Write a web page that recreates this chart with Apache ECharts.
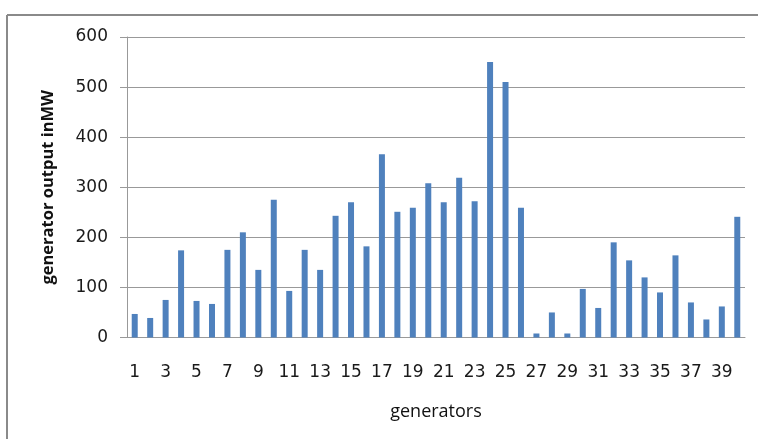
<!DOCTYPE html>
<html>
<head>
<meta charset="utf-8">
<script src="https://cdn.jsdelivr.net/npm/echarts@6/dist/echarts.min.js"></script>
<style>
html,body{margin:0;padding:0;background:#fff;}
#c{width:758px;height:439px;}
</style>
</head>
<body>
<div id="c"></div>
<script>
var categories = [];
for (var i = 1; i <= 40; i++) categories.push(String(i));
var outputMW = [47, 39, 75, 174, 73, 67, 175, 210, 135, 275,
                93, 175, 135, 243, 270, 182, 366, 251, 259, 308,
                270, 319, 272, 550, 510, 259, 8, 50, 8, 97,
                59, 190, 154, 120, 90, 164, 70, 36, 62, 241];
var yTicks = [0, 100, 200, 300, 400, 500, 600];

var chart = echarts.init(document.getElementById('c'), null, {renderer: 'canvas'});
chart.setOption({
  animation: false,
  backgroundColor: '#ffffff',
  grid: {left: 127, right: 13, top: 37, bottom: 101.5, containLabel: false},
  graphic: [
    {type: 'line', shape: {x1: 7, y1: 15, x2: 758, y2: 15}, style: {stroke: '#8a8a8a', lineWidth: 2}},
    {type: 'line', shape: {x1: 7, y1: 15, x2: 7, y2: 439}, style: {stroke: '#8a8a8a', lineWidth: 2}}
  ],
  xAxis: {
    type: 'category',
    data: categories,
    name: 'generators',
    nameLocation: 'middle',
    nameGap: 65,
    nameTextStyle: {fontFamily: 'Open Sans', fontSize: 18, color: '#111'},
    axisLine: {lineStyle: {color: '#999', width: 1}},
    axisTick: {show: false},
    axisLabel: {interval: 1, margin: 27, fontFamily: 'DejaVu Sans', fontSize: 17, color: '#1a1a1a'}
  },
  yAxis: {
    type: 'value',
    min: 0, max: 600, interval: 100,
    name: 'generator output inMW',
    nameLocation: 'middle',
    nameGap: 70,
    nameTextStyle: {fontFamily: 'Open Sans', fontSize: 16.5, fontWeight: 'bold', color: '#111'},
    axisLine: {show: true, lineStyle: {color: '#999', width: 1}},
    axisTick: {show: true, length: 7, lineStyle: {color: '#999'}},
    axisLabel: {margin: 19, fontFamily: 'DejaVu Sans', fontSize: 17, color: '#1a1a1a',
      formatter: function (v) { return yTicks.indexOf(v) >= 0 ? String(v) : ''; }},
    splitLine: {lineStyle: {color: '#999', width: 1}}
  },
  series: [{
    type: 'bar',
    data: outputMW,
    barWidth: 6,
    itemStyle: {color: '#4f81bd'}
  }]
});
</script>
</body>
</html>
